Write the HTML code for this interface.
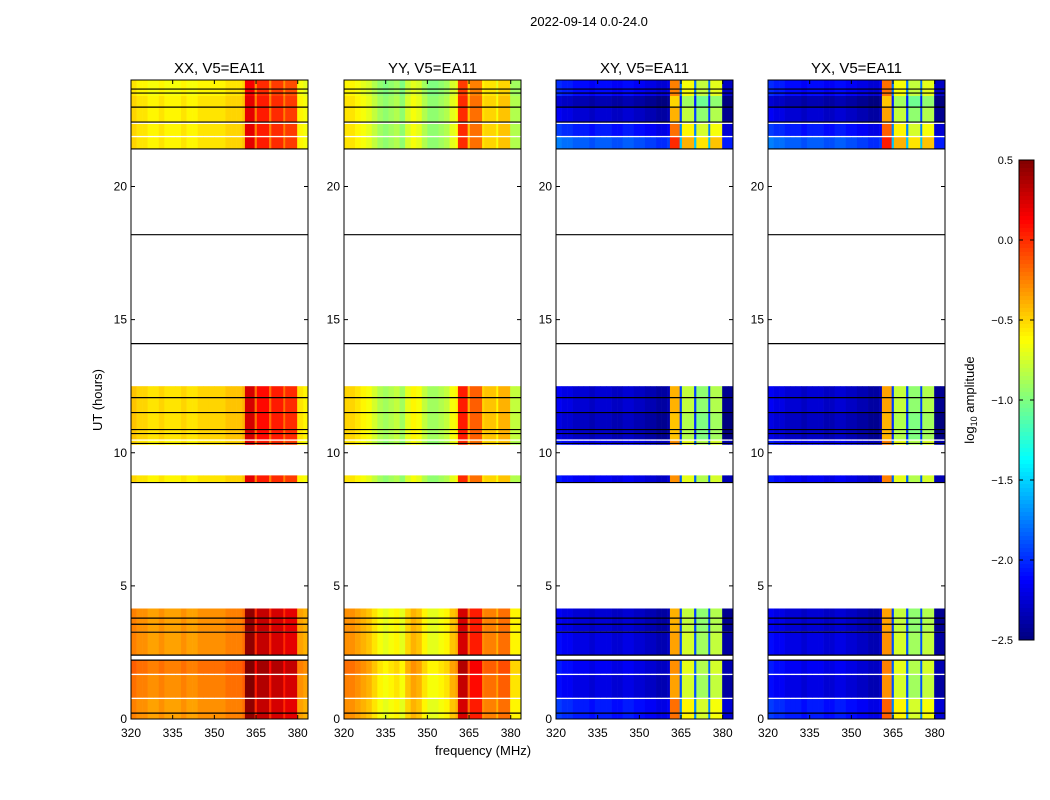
<!DOCTYPE html>
<html><head><meta charset="utf-8">
<style>
body{margin:0;background:#fff;}
svg{display:block;font-family:"Liberation Sans",sans-serif;}
</style></head>
<body>
<svg id="chart" width="1050" height="800" xmlns="http://www.w3.org/2000/svg">
<rect width="1050" height="800" fill="#fff"/>
<text x="589" y="26" font-size="13" text-anchor="middle">2022-09-14 0.0-24.0</text>
<text x="483" y="755" font-size="13" text-anchor="middle">frequency (MHz)</text>
<text x="102" y="400" font-size="13" text-anchor="middle" transform="rotate(-90 102 400)">UT (hours)</text>
<text x="974" y="400" font-size="13" text-anchor="middle" transform="rotate(-90 974 400)">log<tspan font-size="9" dy="3">10</tspan><tspan dy="-3"> amplitude</tspan></text>
<g id="panels"></g>
<g id="cbar"></g>
</svg>
<script>
const pols = ['XX, V5=EA11','YY, V5=EA11','XY, V5=EA11','YX, V5=EA11'];
const freqStarts = [320,322,324,326,328,330,332,334,336,338,340,342,344,346,348,350,352,354,356,358,360,361,364.5,365.3,369.7,370.5,374.8,375.5,379.8,382];
const freqEnds   = [322,324,326,328,330,332,334,336,338,340,342,344,346,348,350,352,354,356,358,360,361,364.5,365.3,369.7,370.5,374.8,375.5,379.8,382,384];
const xxProfile = [-0.45,-0.5,-0.5,-0.55,-0.55,-0.5,-0.55,-0.55,-0.55,-0.5,-0.55,-0.55,-0.5,-0.5,-0.5,-0.5,-0.5,-0.45,-0.45,-0.45,-0.4,0.25,-0.2,0.1,-0.2,0.05,-0.2,0.0,-0.55,-0.6];
const yyProfile = [-0.5,-0.5,-0.55,-0.6,-0.65,-0.75,-0.85,-0.9,-0.85,-0.8,-0.9,-0.7,-0.6,-0.65,-0.8,-0.9,-0.9,-0.85,-0.8,-0.65,-0.6,0.05,-0.4,-0.15,-0.5,-0.45,-0.6,-0.4,-0.8,-0.8];
const xyProfile = [-2.1,-2.15,-2.15,-2.2,-2.2,-2.2,-2.25,-2.2,-2.2,-2.2,-2.25,-2.25,-2.2,-2.2,-2.25,-2.25,-2.3,-2.3,-2.35,-2.35,-2.3,-0.35,-1.9,-0.75,-1.9,-0.9,-1.9,-0.8,-2.4,-2.4];
const yxProfile = [-2.1,-2.15,-2.15,-2.2,-2.2,-2.2,-2.25,-2.2,-2.2,-2.2,-2.25,-2.25,-2.2,-2.2,-2.25,-2.25,-2.3,-2.3,-2.35,-2.35,-2.3,-0.3,-1.9,-0.75,-1.9,-0.9,-1.9,-0.8,-2.4,-2.4];
const segStart = [0.0,0.8,1.7,2.4,3.3,8.9,10.3,10.5,11.5,21.4,21.9,22.4,23.0,23.4];
const segEnd   = [0.75,1.65,2.2,3.3,4.15,9.15,10.45,11.5,12.5,21.85,22.35,23.0,23.4,24.0];
const parOffset   = [0.2,0.25,0.3,0.2,0.2,-0.05,-0.05,0.0,0.0,-0.05,-0.05,-0.05,-0.05,-0.1];
const crossOffset = [0.15,0.0,0.05,0.0,-0.05,0.05,0.05,-0.1,-0.05,0.35,0.15,-0.05,-0.15,0.1];
const blackLines = [23.66,23.51,22.98,22.42,21.41,18.19,14.1,12.07,11.51,10.87,10.72,10.35,8.88,3.79,3.56,3.26,2.4,2.21,0.22];
const xTicks = [320,335,350,365,380];
const yTicks = [0,5,10,15,20];
const cbTicks = [0.5,0.0,-0.5,-1.0,-1.5,-2.0,-2.5];
const cbLabels = ['0.5','0.0','\u22120.5','\u22121.0','\u22121.5','\u22122.0','\u22122.5'];

const NS='http://www.w3.org/2000/svg';
const panelX=[131,344,556,768], PW=177, PT=80, PB=719;
const fMin=320, fMax=383.7, vMin=-2.5, vMax=0.5;
function jet(v){let t=(v-vMin)/(vMax-vMin);t=Math.max(0,Math.min(1,t));
 const f=x=>Math.round(255*Math.max(0,Math.min(1,1.5-Math.abs(4*t-x))));
 return `rgb(${f(3)},${f(2)},${f(1)})`;}
function el(tag,attrs,parent){const e=document.createElementNS(NS,tag);for(const k in attrs)e.setAttribute(k,attrs[k]);parent.appendChild(e);return e;}
const profiles=[xxProfile,yyProfile,xyProfile,yxProfile];
const G=document.getElementById('panels');
panelX.forEach((px,pi)=>{
 const xs=f=>px+(Math.min(f,fMax)-fMin)/(fMax-fMin)*PW;
 const ys=t=>PB-t/24*(PB-PT);
 const g=el('g',{},G);
 
 
 const prof=profiles[pi], off=pi<2?parOffset:crossOffset;
 segStart.forEach((s,si)=>{
  freqStarts.forEach((f,fi)=>{
   const x0=xs(f), x1=xs(freqEnds[fi]);
   if(x1<=x0) return;
   const r=el('rect',{x:x0,y:ys(segEnd[si]),width:x1-x0+0.3,height:ys(segStart[si])-ys(segEnd[si]),fill:jet(prof[fi]+off[si])},g);
   
   
  });
 });
 blackLines.forEach(t=>{const l=el('line',{x1:px,x2:px+PW,y1:ys(t),y2:ys(t),stroke:'#000','stroke-width':1.2},g);
  
  });
 const fr=el('rect',{x:px,y:PT,width:PW,height:PB-PT,fill:'none',stroke:'#000','stroke-width':1},g);
 
 
 const tt=el('text',{x:px+PW/2,y:73,'font-size':15,'text-anchor':'middle'},g);tt.textContent=pols[pi];
 
 
 xTicks.forEach(v=>{const x=xs(v);
  el('line',{x1:x,x2:x,y1:PB,y2:PB-4,stroke:'#000'},g);el('line',{x1:x,x2:x,y1:PT,y2:PT+4,stroke:'#000'},g);
  const t=el('text',{x:x,y:PB+18,'font-size':12,'text-anchor':'middle'},g);t.textContent=v;
  
  });
 yTicks.forEach(v=>{const y=ys(v);
  el('line',{x1:px,x2:px+4,y1:y,y2:y,stroke:'#000'},g);el('line',{x1:px+PW,x2:px+PW-4,y1:y,y2:y,stroke:'#000'},g);
  const t=el('text',{x:px-4,y:y+4,'font-size':12,'text-anchor':'end'},g);t.textContent=v;
  
  });
});
const C=document.getElementById('cbar');
const cx=1019,cw=15,ct=160,cb=640;
const cys=v=>ct+(vMax-v)/(vMax-vMin)*(cb-ct);
for(let i=0;i<120;i++){const v0=vMax-i*(vMax-vMin)/120;
 const r=el('rect',{x:cx,y:cys(v0),width:cw,height:(cb-ct)/120+0.5,fill:jet(v0-(vMax-vMin)/240)},C);
 
 }
const cf=el('rect',{x:cx,y:ct,width:cw,height:cb-ct,fill:'none',stroke:'#000'},C);


cbTicks.forEach((v,i)=>{const y=cys(v);
 el('line',{x1:cx,x2:cx+4,y1:y,y2:y,stroke:'#000'},C);el('line',{x1:cx+cw,x2:cx+cw-4,y1:y,y2:y,stroke:'#000'},C);
 const t=el('text',{x:1013,y:y+4,'font-size':11,'text-anchor':'end'},C);t.textContent=cbLabels[i];
 
 });
</script>
</body></html>
